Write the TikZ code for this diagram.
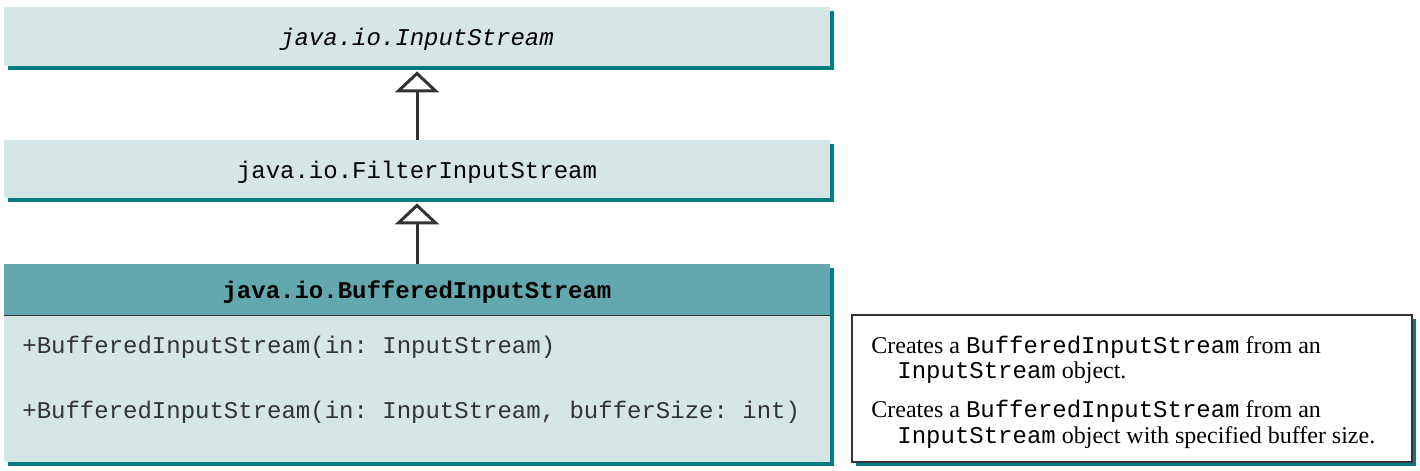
\documentclass[tikz,border=0pt]{standalone}
\usepackage{fontspec}
\setmainfont{Liberation Serif}
\setmonofont{Liberation Mono}
\usetikzlibrary{arrows.meta,shadows}
\definecolor{umlfill}{HTML}{D5E6E6}
\definecolor{umlhead}{HTML}{63A8AE}
\definecolor{umlshadow}{HTML}{007D80}
\definecolor{umlline}{HTML}{333333}
\def\umlsize{\fontsize{12}{14}\selectfont}
\tikzset{
	umlbox/.style={fill=umlfill, minimum width=413pt, inner sep=0pt, font=\umlsize\ttfamily,
		text height=10pt, text depth=0.6pt,
		general shadow={fill=umlshadow, shadow xshift=2pt, shadow yshift=-2pt}},
	inherit/.style={draw=umlline, line width=1.5pt, -{Triangle[open, length=10.5pt, width=22pt]}},
	umltext/.style={anchor=base west, inner sep=0pt, font=\umlsize\ttfamily, text=umlline},
	notetext/.style={anchor=base west, inner sep=0pt, font=\umlsize, text=black}
}

\begin{document}
\begin{tikzpicture}[x=0.5pt, y=-0.5pt]
		%%%%% START %%%%%
		\useasboundingbox (0, 0) rectangle (1420, 471);
		
		\node[umlbox, minimum height=29.5pt] (instream) at (417, 36.5) {\itshape java.io.InputStream};
		\node[umlbox, minimum height=29pt] (filter) at (417, 169) {java.io.FilterInputStream};
		
		\node[umlbox, fill=umlhead, minimum height=25.5pt] (bufhead) at (417, 289.5) {\bfseries java.io.BufferedInputStream};
		\node[umlbox, minimum height=73.5pt] (bufbody) at (417, 388.5) {};
		\draw[umlline, line width=0.6pt] (bufhead.south west) -- (bufhead.south east);
		
		\node[umltext] (ctorA) at (22, 353) {+BufferedInputStream(in: InputStream)};
		\node[umltext] (ctorB) at (22, 418) {+BufferedInputStream(in: InputStream, bufferSize: int)};
		
		\node[draw=umlline, line width=0.6pt, fill=white, minimum width=280pt, minimum height=73.5pt, inner sep=0pt,
			general shadow={fill=umlshadow, shadow xshift=2pt, shadow yshift=-2pt}] (note) at (1132, 388.5) {};
		\node[notetext] (noteA) at (871, 353) {Creates a \texttt{BufferedInputStream} from an};
		\node[notetext] (noteB) at (897, 378) {\texttt{InputStream} object.};
		\node[notetext] (noteC) at (871, 417) {Creates a \texttt{BufferedInputStream} from an};
		\node[notetext] (noteD) at (897, 443) {\texttt{InputStream} object with specified buffer size.};
		
		\draw[inherit] (filter.north) -- ([yshift=-2.5pt]instream.south);
		\draw[inherit] (bufhead.north) -- ([yshift=-2.5pt]filter.south);
		%%%%% END %%%%%
\end{tikzpicture}
\end{document}
